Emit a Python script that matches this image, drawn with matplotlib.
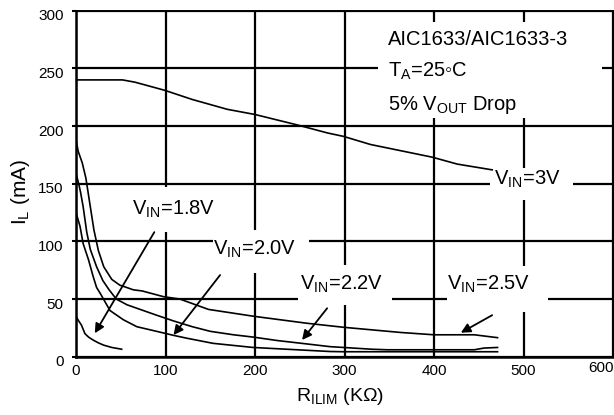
import matplotlib
matplotlib.use('Agg')
import matplotlib.pyplot as plt
import matplotlib.transforms as mtransforms
from matplotlib.patches import Rectangle

plt.rcParams['font.family'] = ['Liberation Sans', 'DejaVu Sans']
plt.rcParams['mathtext.fontset'] = 'custom'
plt.rcParams['mathtext.rm'] = 'Liberation Sans'
plt.rcParams['mathtext.it'] = 'Liberation Sans'
plt.rcParams['mathtext.default'] = 'regular'

# ---- data (R_ILIM in kOhm, I_L in mA) ----
r_3v0 = [0, 52, 66, 99, 130, 169, 200, 247, 281, 299, 329, 398, 426, 465]
i_3v0 = [240, 240, 238, 231, 223, 214.5, 210, 201, 194, 191, 184, 173, 167, 162]

r_2v5 = [0, 2.5, 7, 11, 14, 17, 20, 25, 31, 40, 49, 53, 64, 74, 98, 116, 148, 199, 258, 299, 363, 400, 445, 471]
i_2v5 = [188, 178, 168, 155, 140, 125, 110, 92, 78, 67, 62, 61, 58, 57, 52, 50, 41, 35, 29, 25.5, 21, 19, 19, 16.5]

r_2v2 = [0, 3, 5, 8, 12, 16, 23, 30, 37, 45, 57, 68, 90, 109, 130, 150, 176, 198, 225, 252, 284, 299, 330, 348, 445, 456, 471]
i_2v2 = [159, 150, 143, 130, 108, 93, 78, 66, 58, 50, 45, 42, 36, 31, 26, 22, 19, 17, 14, 11.6, 8.7, 8, 6.5, 6, 6, 7.5, 8]

r_2v0 = [0, 4.5, 8, 14, 19, 23, 27, 38, 53, 68, 90, 109, 124, 153, 198, 252, 284, 299, 471]
i_2v0 = [125, 113, 98, 84, 70, 60, 55, 40, 32, 26, 22, 18.5, 16, 11.6, 8, 5.8, 4.5, 4.3, 4.3]

r_1v8 = [0, 3, 6, 10, 14, 19, 25, 31, 40, 51]
i_1v8 = [35, 31, 27.5, 20, 17, 14.5, 12, 10, 8, 6.5]

x_ticks = [0, 100, 200, 300, 400, 500, 600]
y_ticks = [0, 50, 100, 150, 200, 250, 300]

# ---- figure ----
fig = plt.figure(figsize=(6.14, 4.15), dpi=100)
ax = fig.add_axes([76 / 614, 58.3 / 415, 537 / 614, 346 / 415])
ax.set_xlim(0, 600)
ax.set_ylim(0, 300)
ax.set_xticks(x_ticks)
ax.set_yticks(y_ticks)
ax.set_xticklabels([str(v) for v in x_ticks])
ax.set_yticklabels([str(v) for v in y_ticks])
ax.tick_params(axis='x', length=0, pad=5, labelsize=11)
ax.tick_params(axis='y', length=3, width=1.5, pad=6, labelsize=11, direction='out')
ax.grid(True, color='black', linewidth=1.6, zorder=0.5)
ax.set_axisbelow(True)

for side, lw in (('left', 1.8), ('bottom', 1.8), ('top', 1.4), ('right', 0.9)):
    ax.spines[side].set_linewidth(lw)
    ax.spines[side].set_color('black')

off = mtransforms.ScaledTranslation(0, -4 / 100, fig.dpi_scale_trans)
for lab in ax.get_yticklabels():
    lab.set_transform(lab.get_transform() + off)

# last x tick label sits against the right edge, slightly raised
xlabs = ax.get_xticklabels()
last = xlabs[-1]
last.set_horizontalalignment('right')
last.set_transform(last.get_transform() +
                   mtransforms.ScaledTranslation(1 / 100, 3 / 100, fig.dpi_scale_trans))

# white masks behind labels (hide grid lines like the original)
masks = [
    (58, 108, 101, 39),     # V_IN=1.8V
    (153, 73, 107, 37),     # V_IN=2.0V
    (248, 45, 105, 34.5),   # V_IN=2.2V
    (414.5, 38.7, 112.5, 40),  # V_IN=2.5V
    (462.6, 136, 92.4, 27.6),  # V_IN=3V
    (337.7, 207, 250.3, 83),   # condition block
]
for (mx, my, mw, mh) in masks:
    ax.add_patch(Rectangle((mx, my), mw, mh, facecolor='white', edgecolor='none', zorder=1))

# curves
lw = 1.2
for xs, ys in ((r_3v0, i_3v0), (r_2v5, i_2v5), (r_2v2, i_2v2), (r_2v0, i_2v0), (r_1v8, i_1v8)):
    ax.plot(xs, ys, color='black', linewidth=lw, zorder=2)

# labels
fs = 14.5
ax.text(62.6, 122.9, r'V$_{IN}$=1.8V', fontsize=fs, ha='left', va='baseline', zorder=3)
ax.text(153, 88.2, r'V$_{IN}$=2.0V', fontsize=fs, ha='left', va='baseline', zorder=3)
ax.text(250, 57.8, r'V$_{IN}$=2.2V', fontsize=fs, ha='left', va='baseline', zorder=3)
ax.text(414.5, 57.8, r'V$_{IN}$=2.5V', fontsize=fs, ha='left', va='baseline', zorder=3)
ax.text(467, 148.9, r'V$_{IN}$=3V', fontsize=fs, ha='left', va='baseline', zorder=3)

ax.text(348.6, 270, 'AIC1633/AIC1633-3', fontsize=fs, ha='left', va='baseline', zorder=3)
ax.text(348.6, 242.4, r'T$_{A}$=25' + '\u25e6' + 'C', fontsize=fs, ha='left', va='baseline', zorder=3)
ax.text(348.6, 213.9, r'5% V$_{OUT}$ Drop', fontsize=fs, ha='left', va='baseline', zorder=3)

# arrows
arrows = [
    ((87.5, 108), (21, 20.3)),
    ((161, 70.8), (109, 18.8)),
    ((280.6, 42), (252.6, 14.5)),
    ((465, 36), (430, 20.8)),
]
for tail, tip in arrows:
    ax.annotate('', xy=tip, xytext=tail,
                arrowprops=dict(arrowstyle='-|>', color='black', lw=1.3,
                                mutation_scale=14, shrinkA=0, shrinkB=0),
                zorder=3)

ax.set_xlabel(r'R$_{ILIM}$ (K$\Omega$)', fontsize=14)
ax.xaxis.set_label_coords((340 - 76) / 537, (357 - 397) / 346)
ax.xaxis.label.set_verticalalignment('center')
ax.set_ylabel(r'I$_{L}$ (mA)', fontsize=15)
ax.yaxis.set_label_coords((21 - 76) / 537, (357 - 192) / 346)
ax.yaxis.label.set_verticalalignment('center')

fig.savefig('out.png', dpi=100)
